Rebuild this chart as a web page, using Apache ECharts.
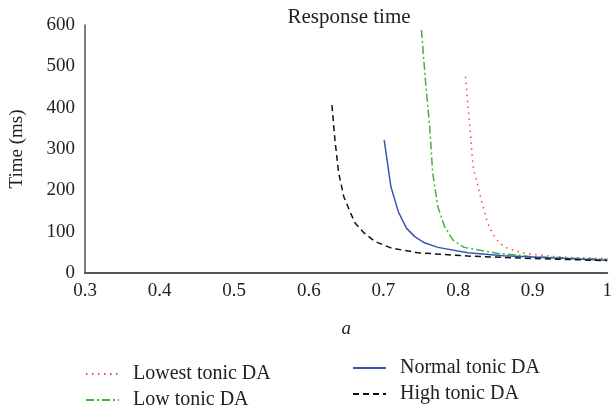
<!DOCTYPE html>
<html>
<head>
<meta charset="utf-8">
<script src="https://cdn.jsdelivr.net/npm/echarts@6/dist/echarts.min.js"></script>
<style>
  html, body { margin: 0; padding: 0; background: #fff; }
  #chart { width: 615px; height: 410px; }
</style>
</head>
<body>
<div id="chart"></div>
<script>
// values
var lowestA = [0.810, 0.813, 0.815, 0.817, 0.819, 0.821, 0.826, 0.830, 0.835, 0.839, 0.846, 0.855, 0.866, 0.888, 0.927, 0.96, 1.0];
var lowestT = [475, 410, 370, 330, 281, 249, 217, 185, 152, 124, 96, 73, 60, 48, 40, 37, 35];

var lowA = [0.751, 0.753, 0.757, 0.762, 0.766, 0.773, 0.782, 0.793, 0.808, 0.852, 0.896, 0.95, 1.0];
var lowT = [588, 540, 451, 354, 242, 160, 112, 80, 62, 48, 40, 36, 33];

var normalA = [0.701, 0.710, 0.720, 0.731, 0.742, 0.755, 0.773, 0.813, 0.861, 0.93, 1.0];
var normalT = [322, 209, 148, 108, 88, 73, 62, 49, 42, 36, 31];

var highA = [0.631, 0.635, 0.640, 0.647, 0.656, 0.662, 0.674, 0.689, 0.711, 0.746, 0.813, 0.9, 1.0];
var highT = [406, 322, 242, 184, 145, 121, 97, 76, 60, 49, 41, 35, 30];

var seriesNames = ["Lowest tonic DA", "Low tonic DA", "Normal tonic DA", "High tonic DA"];

function pairs(xs, ys) {
  var out = [];
  for (var i = 0; i < xs.length; i++) out.push([xs[i], ys[i]]);
  return out;
}

var FONT = "Liberation Serif";
var TXT = "#222";

// one legend per entry so each can sit where it does in the picture
function legendAt(name, left, top) {
  return {
    data: [name],
    left: left, top: top,
    itemWidth: 33, itemHeight: 10,
    itemStyle: { opacity: 0 },
    textStyle: { fontFamily: FONT, fontSize: 20, color: TXT, padding: [0, 0, 0, 9] }
  };
}

var chart = echarts.init(document.getElementById("chart"));

chart.setOption({
  animation: false,
  textStyle: { fontFamily: FONT },
  title: {
    text: "Response time",
    left: 344, top: 2,
    textAlign: "center",
    textStyle: { fontFamily: FONT, fontWeight: "normal", fontSize: 21, color: TXT }
  },
  legend: [
    legendAt(seriesNames[0], 80, 359),
    legendAt(seriesNames[1], 80, 385),
    legendAt(seriesNames[2], 347, 353),
    legendAt(seriesNames[3], 347, 379)
  ],
  grid: { left: 83, right: 3, top: 25, bottom: 137 },
  xAxis: {
    type: "value",
    min: 0.3, max: 1, interval: 0.1,
    name: "a",
    nameLocation: "middle",
    nameGap: 46,
    nameTextStyle: { fontFamily: FONT, fontStyle: "italic", fontSize: 19, color: TXT },
    axisLine: { lineStyle: { color: "#555", width: 2 } },
    axisTick: { show: false },
    splitLine: { show: false },
    axisLabel: {
      fontFamily: FONT, fontSize: 19, color: TXT, margin: 9,
      formatter: function (v) { return String(Math.round(v * 10) / 10); }
    }
  },
  yAxis: {
    type: "value",
    min: 0, max: 600, interval: 100,
    name: "Time (ms)",
    nameLocation: "middle",
    nameGap: 58,
    nameTextStyle: { fontFamily: FONT, fontSize: 19, color: TXT },
    axisLine: { show: true, lineStyle: { color: "#555", width: 1.5 } },
    axisTick: { show: false },
    splitLine: { show: false },
    axisLabel: { fontFamily: FONT, fontSize: 19, color: TXT, margin: 10 }
  },
  series: [
    {
      name: seriesNames[0], type: "line", symbol: "none",
      data: pairs(lowestA, lowestT),
      itemStyle: { color: "#f24a4a" },
      lineStyle: { color: "#f24a4a", width: 1.5, type: [1.5, 4.5] }
    },
    {
      name: seriesNames[1], type: "line", symbol: "none",
      data: pairs(lowA, lowT),
      itemStyle: { color: "#3cb43c" },
      lineStyle: { color: "#3cb43c", width: 1.5, type: [8, 3, 2, 3] }
    },
    {
      name: seriesNames[2], type: "line", symbol: "none",
      data: pairs(normalA, normalT),
      itemStyle: { color: "#3a55b0" },
      lineStyle: { color: "#3a55b0", width: 1.5 }
    },
    {
      name: seriesNames[3], type: "line", symbol: "none",
      data: pairs(highA, highT),
      itemStyle: { color: "#111" },
      lineStyle: { color: "#111", width: 1.5, type: [6, 4] }
    }
  ]
});
</script>
</body>
</html>
